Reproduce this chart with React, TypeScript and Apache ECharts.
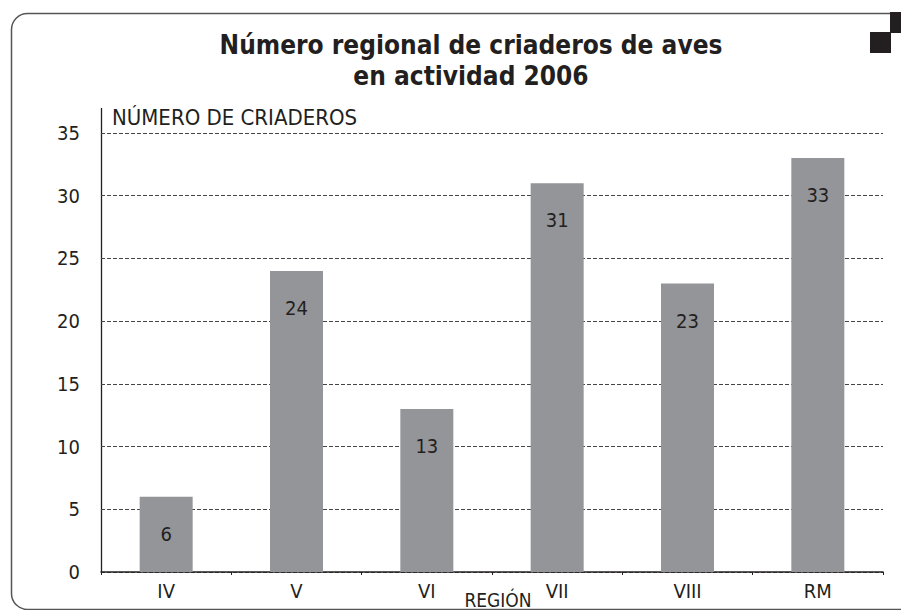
import React, { useEffect, useRef } from "react";
import * as echarts from "echarts";

const categories = ["IV", "V", "VI", "VII", "VIII", "RM"];
const values = [6, 24, 13, 31, 23, 33];
const yTicks = { min: 0, max: 35, interval: 5 };
const titleText = "Número regional de criaderos de aves\nen actividad 2006";
const yName = "NÚMERO DE CRIADEROS";
const xName = "REGIÓN";

const FONT = "'Liberation Sans Narrow', 'DejaVu Sans Condensed', 'Roboto', sans-serif";
const INK = "#231f20";

export default function App() {
  const ref = useRef<HTMLDivElement>(null);
  useEffect(() => {
    if (!ref.current) return;
    const chart = echarts.init(ref.current, null, { renderer: "svg" });
    chart.setOption({
      animation: false,
      backgroundColor: "#ffffff",
      title: {
        text: titleText,
        left: 466,
        top: 24,
        textAlign: "center",
        textStyle: {
          fontFamily: FONT,
          fontSize: 26,
          fontWeight: "bold",
          lineHeight: 31,
          color: INK,
        },
      },
      grid: {
        left: 101,
        right: 18,
        top: 133,
        bottom: 38,
        containLabel: false,
        outerBoundsMode: "none",
      },
      xAxis: {
        type: "category",
        data: categories,
        name: xName,
        nameLocation: "middle",
        nameGap: 28,
        nameMoveOverlap: false,
        nameTextStyle: {
          fontFamily: FONT,
          fontSize: 19,
          lineHeight: 19,
          color: INK,
          verticalAlign: "middle",
          padding: [0, 0, 0, 12],
        },
        axisLine: { show: true, lineStyle: { color: INK, width: 1.5 } },
        axisTick: { show: true, length: 3, lineStyle: { color: INK } },
        axisLabel: { fontFamily: FONT, fontSize: 20, color: INK, margin: 9 },
      },
      yAxis: {
        type: "value",
        min: yTicks.min,
        max: yTicks.max,
        interval: yTicks.interval,
        name: yName,
        nameLocation: "end",
        nameGap: 16,
        nameTextStyle: {
          fontFamily: FONT,
          fontSize: 22,
          color: INK,
          align: "left",
          verticalAlign: "middle",
          padding: [0, 0, 0, 11],
        },
        axisLine: { show: false },
        axisTick: { show: false },
        axisLabel: { fontFamily: FONT, fontSize: 20, color: INK, margin: 21 },
        splitLine: { show: true, lineStyle: { color: "#444", type: [4, 2], width: 1 } },
      },
      series: [
        {
          type: "bar",
          data: values,
          barWidth: 53,
          itemStyle: { color: "#939598" },
          label: {
            show: true,
            position: "insideTop",
            distance: 27,
            fontFamily: FONT,
            fontSize: 20,
            color: INK,
          },
        },
      ],
      graphic: [
        {
          type: "rect",
          shape: { x: 11.5, y: 13.5, width: 1000, height: 596, r: [16, 0, 0, 16] },
          style: { fill: "none", stroke: "#555", lineWidth: 1.5 },
          silent: true,
          z: -1,
        },
        {
          type: "line",
          shape: { x1: 101.5, y1: 108, x2: 101.5, y2: 572 },
          style: { stroke: INK, lineWidth: 1.3 },
          silent: true,
        },
        {
          type: "rect",
          shape: { x: 890, y: 12, width: 21, height: 21 },
          style: { fill: INK },
          silent: true,
        },
        {
          type: "rect",
          shape: { x: 870, y: 32, width: 21, height: 21 },
          style: { fill: INK },
          silent: true,
        },
      ],
    });
    return () => chart.dispose();
  }, []);
  return (
    <div
      ref={ref}
      style={{ position: "fixed", left: 0, top: 0, width: 901, height: 610, background: "#fff" }}
    />
  );
}
